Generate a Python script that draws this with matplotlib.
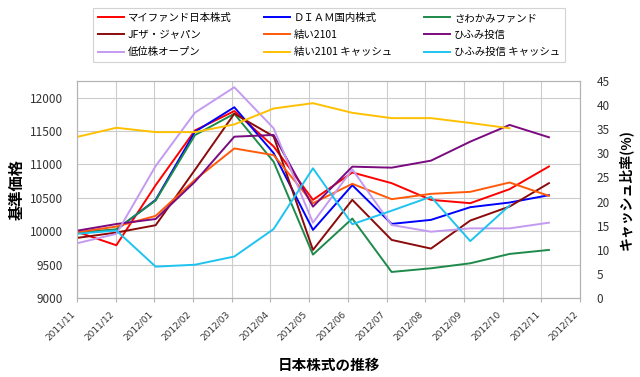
import matplotlib
matplotlib.use('Agg')
import matplotlib.pyplot as plt
import numpy as np

plt.rcParams['font.family'] = ['Noto Sans CJK JP', 'DejaVu Sans']

months = ['2011/11', '2011/12', '2012/01', '2012/02', '2012/03', '2012/04', '2012/05',
          '2012/06', '2012/07', '2012/08', '2012/09', '2012/10', '2012/11', '2012/12']

# 基準価格 (left axis)
myfund = [9990, 9790, 10690, 11510, 11800, 11270, 10470, 10880, 10720, 10470, 10420, 10630, 10970]
diam = [9980, 10020, 10470, 11490, 11857, 11170, 10020, 10690, 10110, 10170, 10360, 10430, 10540]
sawakami = [9970, 10030, 10460, 11440, 11760, 11040, 9650, 10190, 9390, 9445, 9520, 9660, 9720]
jf = [9900, 9980, 10090, 10920, 11760, 11420, 9720, 10470, 9870, 9740, 10160, 10370, 10720]
yui = [9985, 10070, 10230, 10770, 11240, 11140, 10420, 10710, 10480, 10560, 10590, 10730, 10530]
hifumi = [10008, 10108, 10183, 10742, 11416, 11442, 10368, 10967, 10952, 11057, 11342, 11592, 11407]
teii = [9820, 9960, 10977, 11776, 12156, 11542, 10128, 10927, 10093, 9993, 10043, 10043, 10128]

# キャッシュ比率 (right axis, %)
yui_cash = [33.4, 35.3, 34.4, 34.4, 36.0, 39.3, 40.4, 38.4, 37.3, 37.3, 36.3, 35.2, None]
hifumi_cash = [13.3, 14.0, 6.5, 6.9, 8.6, 14.3, 26.9, 15.3, 18.1, 21.0, 11.8, 19.2, None]

left_series = [
    ('マイファンド日本株式', myfund, '#ff0000'),
    ('ＤＩＡＭ国内株式', diam, '#0000ff'),
    ('さわかみファンド', sawakami, '#1e8a4a'),
    ('JFザ・ジャパン', jf, '#8b0a0a'),
    ('結い2101', yui, '#ff5a0a'),
    ('ひふみ投信', hifumi, '#7a0a80'),
    ('低位株オープン', teii, '#c49af0'),
]
right_series = [
    ('結い2101 キャッシュ', yui_cash, '#ffc000'),
    ('ひふみ投信 キャッシュ', hifumi_cash, '#1ec3f0'),
]

fig = plt.figure(figsize=(6.4, 3.77), dpi=100)
ax = fig.add_axes([77 / 640, 1 - 298 / 377, 503 / 640, 217 / 377])
ax2 = ax.twinx()

x = np.arange(len(myfund))
xmax = 12.79  # data points run slightly wider than the month grid

handles = {}
for name, vals, col in left_series:
    h, = ax.plot(x, vals, color=col, lw=1.4)
    handles[name] = h
for name, vals, col in right_series:
    v = np.array([np.nan if a is None else a for a in vals], dtype=float)
    h, = ax2.plot(x, v, color=col, lw=1.4)
    handles[name] = h

ax.set_xlim(0, xmax)
ax.set_ylim(9000, 12250)
ax.set_yticks(np.arange(9000, 12001, 500))
ax2.set_ylim(0, 45)
ax2.set_yticks(np.arange(0, 46, 5))

ticks = np.linspace(0, xmax, len(months))
ax.set_xticks(ticks)
ax.set_xticklabels(months, rotation=45, ha='right', fontsize=6.5, color='#333333',
                   family='DejaVu Sans')
ax.grid(True, color='#cccccc', lw=0.8)
ax.set_axisbelow(True)

for a in (ax, ax2):
    for s in a.spines.values():
        s.set_color('#b4b4b4')
        s.set_linewidth(0.8)
ax.tick_params(axis='x', length=3, color='#b4b4b4', pad=5)
ax.tick_params(axis='y', length=0, pad=10, labelsize=8.5, labelcolor='#333333')
ax2.tick_params(axis='y', length=0, pad=12, labelsize=8.5, labelcolor='#333333')

ax.set_ylabel('基準価格', fontsize=11, fontweight='bold', labelpad=4)
ax2.set_ylabel('キャッシュ比率(%)', fontsize=10, fontweight='bold', labelpad=6)
ax.set_xlabel('日本株式の推移', fontsize=10.5, fontweight='bold', labelpad=11)

order = ['マイファンド日本株式', 'JFザ・ジャパン', '低位株オープン',
         'ＤＩＡＭ国内株式', '結い2101', '結い2101 キャッシュ',
         'さわかみファンド', 'ひふみ投信', 'ひふみ投信 キャッシュ']
leg = fig.legend([handles[n] for n in order], order, ncol=3, loc='upper left',
                 bbox_to_anchor=(93 / 640, 1 - 63 / 377, 472 / 640, 55 / 377),
                 mode='expand', fontsize=7.5, handlelength=2.5, handletextpad=0.4,
                 labelspacing=0.7, borderaxespad=0, fancybox=False, borderpad=0.45)
leg.get_frame().set_edgecolor('#c8c8c8')
leg.get_frame().set_linewidth(0.8)

fig.savefig('out.png', dpi=100)
